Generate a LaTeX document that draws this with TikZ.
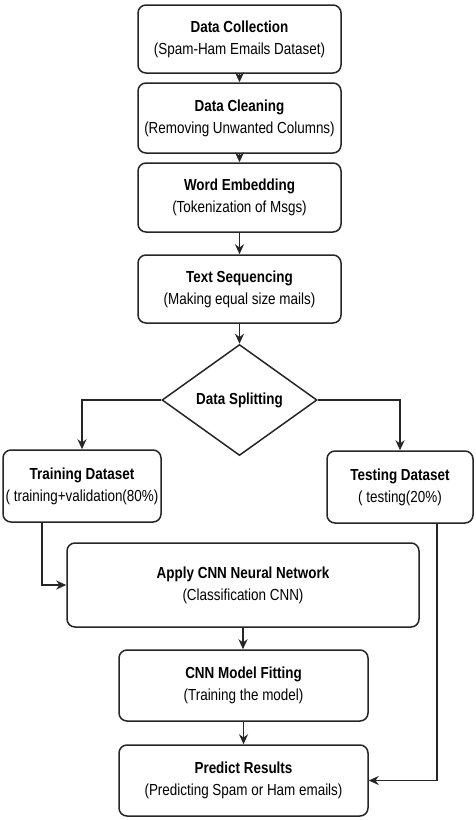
\documentclass[tikz,border=0pt]{standalone}
\usepackage{fontspec}
\setmainfont[FakeStretch=0.84]{Liberation Sans}
\usetikzlibrary{shapes.geometric,arrows.meta,calc}
\begin{document}
\begin{tikzpicture}[x=1pt,y=-1pt,
  box/.style={draw=black!85, line width=1.5pt, rounded corners=8pt, align=center,
    inner sep=0pt, font=\fontsize{16}{22}\selectfont},
  arr/.style={draw=black!85, line width=1.5pt, -{Stealth[length=10pt,width=9pt]}},
  lin/.style={draw=black!85, line width=1.5pt}]
\useasboundingbox[fill=white] (0,0) rectangle (476,820);
\node[box, minimum width=203pt, minimum height=68pt] (dc) at (239.5,39) {\textbf{Data Collection}\\(Spam-Ham Emails Dataset)};
\node[box, minimum width=203pt, minimum height=70pt] (cl) at (239.5,118) {\textbf{Data Cleaning}\\(Removing Unwanted Columns)};
\node[box, minimum width=203pt, minimum height=69pt] (we) at (239.5,197.5) {\textbf{Word Embedding}\\(Tokenization of Msgs)};
\node[box, minimum width=203pt, minimum height=68pt] (ts) at (239.5,289) {\textbf{Text Sequencing}\\(Making equal size mails)};
\node[diamond, draw=black!85, line width=1.5pt, inner sep=0pt, aspect=1.4,
  minimum width=155pt, minimum height=111pt, font=\fontsize{16}{22}\selectfont\bfseries] (sp) at (239.5,400) {Data Splitting};
\node[box, minimum width=158pt, minimum height=72pt] (tr) at (82,486) {\textbf{Training Dataset}\\( training+validation(80\%)};
\node[box, minimum width=146pt, minimum height=72pt] (te) at (400,487) {\textbf{Testing Dataset}\\( testing(20\%)};
\node[box, minimum width=352pt, minimum height=84pt] (cnn) at (243,585) {\textbf{Apply CNN Neural Network}\\(Classification CNN)};
\node[box, minimum width=249pt, minimum height=71pt] (fit) at (243.5,685.5) {\textbf{CNN Model Fitting}\\(Training the model)};
\node[box, minimum width=249pt, minimum height=71pt] (pr) at (243.5,780.5) {\textbf{Predict Results}\\(Predicting Spam or Ham emails)};
\draw[arr] (dc) -- (cl);
\draw[arr] (cl) -- (we);
\draw[arr] (we) -- (ts);
\draw[arr] (ts) -- (sp);
\draw[arr] (sp.west) -| (tr.north);
\draw[arr] (sp.east) -| (te.north);
\coordinate (trout) at ($(tr.south)+(-40,0)$);
\coordinate (teout) at ($(te.south)+(37,0)$);
\draw[arr] (trout) |- (cnn.west);
\draw[arr] (teout) |- (pr.east);
\draw[arr] (cnn.south) -- (cnn.south |- fit.north);
\draw[arr] (fit) -- (pr);
\end{tikzpicture}
\end{document}
